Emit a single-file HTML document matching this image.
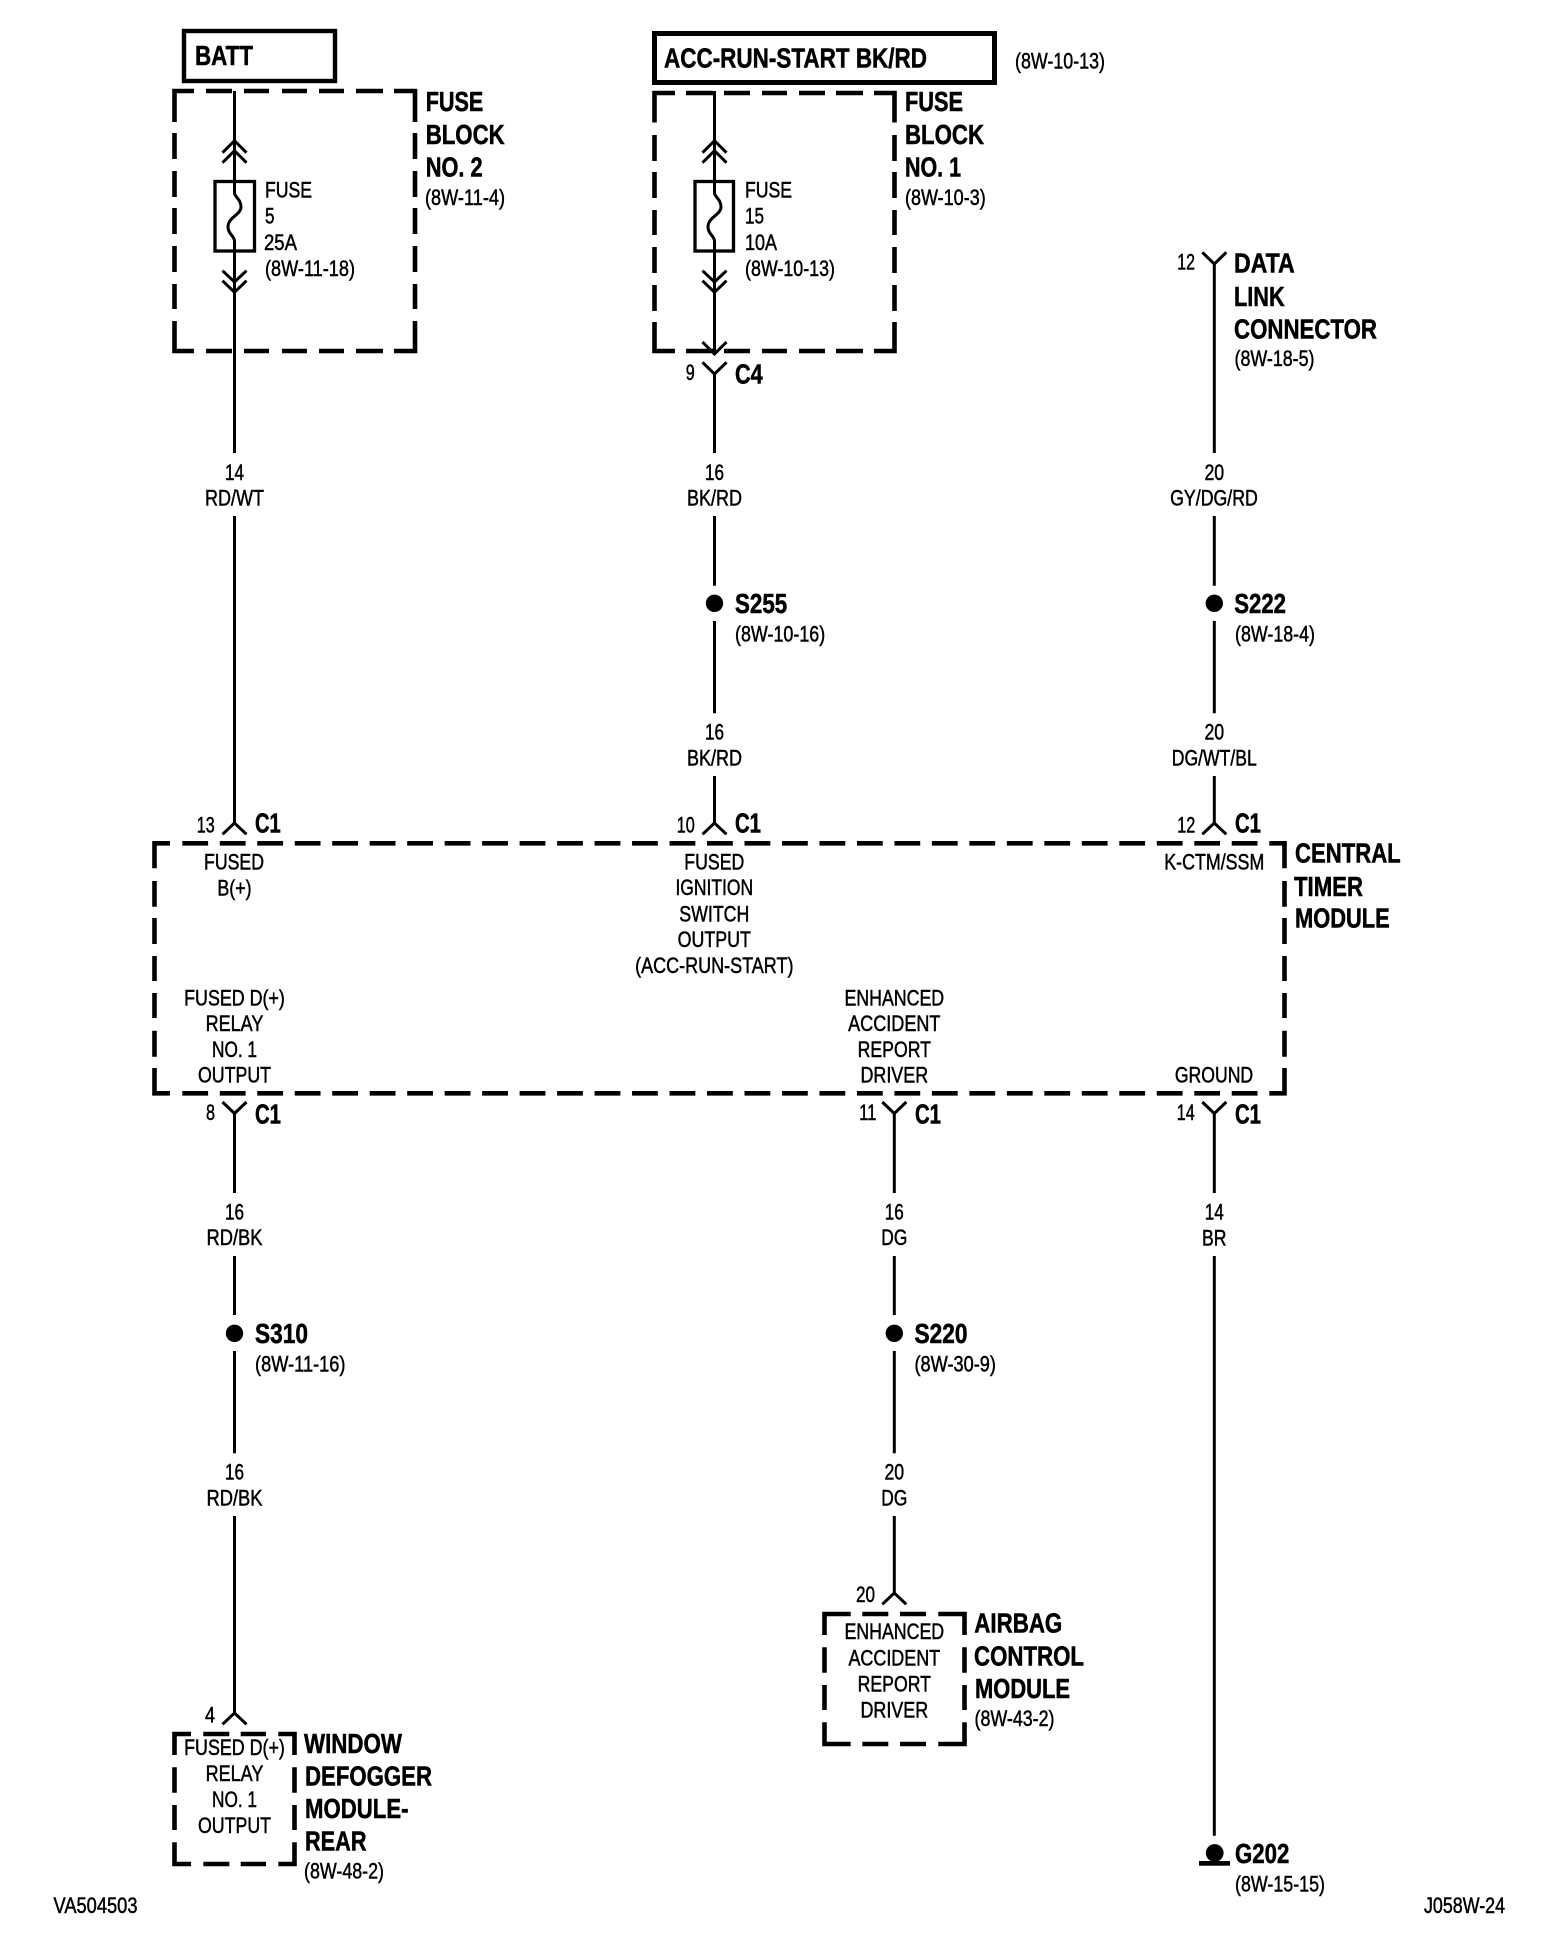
<!DOCTYPE html>
<html>
<head>
<meta charset="utf-8">
<style>
html,body{margin:0;padding:0;background:#fff}
svg{display:block}
text{font-family:"Liberation Sans",Arial,sans-serif;fill:#000}
.t{font-size:22.5px;stroke:#000;stroke-width:.5}
.b{font-size:28px;font-weight:700;stroke:#000;stroke-width:.55}
.m{text-anchor:middle}
.w{fill:none;stroke:#000;stroke-width:3}
.d{fill:none;stroke:#000;stroke-width:4.6;stroke-linejoin:miter}
.c{fill:none;stroke:#000;stroke-width:3}
</style>
</head>
<body>
<svg width="1568" height="1948" viewBox="0 0 1568 1948" xmlns="http://www.w3.org/2000/svg">
<rect width="1568" height="1948" fill="#fff"/>

<!-- top boxes -->
<rect x="184" y="31" width="151" height="50" fill="none" stroke="#000" stroke-width="4.4"/>
<rect x="654.5" y="33.5" width="340" height="49" fill="none" stroke="#000" stroke-width="5"/>

<!-- fuse block 2 -->
<path class="d" d="M194 91H174.5V122M206 91H232M244 91H269M282 91H307M319 91H344M356 91H383M394 91H415V122M174.5 133V159M174.5 171V197M174.5 208V234M174.5 246V272M174.5 284V309M174.5 321V351H194M206 351H232M244 351H269M282 351H307M319 351H344M356 351H383M394 351H415V321M415 133V159M415 171V197M415 208V234M415 246V272M415 284V309"/>
<!-- fuse block 1 -->
<path class="d" d="M675 93H654.5V122.5M686 93H713M724 93H750M762 93H787M799 93H825M836 93H863M874 93H894.5V122.5M654.5 135V161M654.5 172V198M654.5 210V235M654.5 247V273M654.5 285V311M654.5 322V351H675M686 351H713M724 351H750M762 351H787M799 351H825M836 351H863M874 351H894.5V322M894.5 135V161M894.5 172V198M894.5 210V235M894.5 247V273M894.5 285V311"/>

<!-- central timer module -->
<path class="d" d="M170 843.3H154.5V868.3M154.5 881V906.7M154.5 918V944M154.5 956V981M154.5 993V1018M154.5 1030.7V1056.7M154.5 1068V1093.3H170M1269.3 843.3H1284.5V868.3M1284.5 881V906.7M1284.5 918V944M1284.5 956V981M1284.5 993V1018M1284.5 1030.7V1056.7M1284.5 1068V1093.3H1269.3"/>
<path class="d" stroke-dasharray="25.8 11.68" d="M182.3 843.3H1258"/>
<path class="d" stroke-dasharray="25.8 11.68" d="M182.3 1093.3H1258"/>

<!-- window defogger box -->
<path class="d" d="M191 1734H174.5V1755M203.3 1734H229.3M240.7 1734H266M278.3 1734H294.5V1755M174.5 1767.3V1792.7M174.5 1805V1830M174.5 1842.3V1864H191M203.3 1864H229.3M240.7 1864H266M278.3 1864H294.5V1842.3M294.5 1767.3V1792.7M294.5 1805V1830"/>
<!-- airbag box -->
<path class="d" d="M850.7 1614H824.5V1635M862.3 1614H888.3M900 1614H926M938.3 1614H964.5V1635M824.5 1647.3V1672.7M824.5 1685V1710M824.5 1722.3V1744H850.7M862.3 1744H888.3M900 1744H926M938.3 1744H964.5V1722.3M964.5 1647.3V1672.7M964.5 1685V1710"/>

<!-- fuse rects -->
<rect x="215" y="181.5" width="39.5" height="69.5" fill="none" stroke="#000" stroke-width="3.3"/>
<rect x="695" y="181.5" width="38.5" height="69.5" fill="none" stroke="#000" stroke-width="3.3"/>

<!-- wires col 1 -->
<path class="w" d="M234.5 91V193C234.5 197 241 199 241 207C241 215 228 217 228 227C228 234 234.5 236 234.5 241V453"/>
<path class="w" d="M234.5 516V824"/>
<path class="w" d="M234.5 1113V1193M234.5 1256V1315M234.5 1351V1453.3M234.5 1516V1713"/>
<!-- wires col 2 -->
<path class="w" d="M714.5 91V193C714.5 197 721 199 721 207C721 215 708 217 708 227C708 234 714.5 236 714.5 241V354"/>
<path class="w" d="M714.5 373V453M714.5 516V585.7M714.5 621V713.3M714.5 776V824"/>
<!-- wires col 3 -->
<path class="w" d="M1214.3 263V453M1214.3 516V585.7M1214.3 621V713.3M1214.3 776V824"/>
<path class="w" d="M1214.3 1113V1193M1214.3 1256V1835.7"/>
<!-- wires mid -->
<path class="w" d="M894.3 1113V1193M894.3 1256V1315M894.3 1351V1453.3M894.3 1516V1593"/>

<!-- chevrons -->
<path class="c" d="M222.5 152.7L234.5 140.7L246.5 152.7M222.5 162.7L234.5 150.7L246.5 162.7M222.5 270.7L234.5 282L246.5 270.7M222.5 280.7L234.5 292.3L246.5 280.7"/>
<path class="c" d="M702.5 152.7L714.5 140.7L726.5 152.7M702.5 162.7L714.5 150.7L726.5 162.7M702.5 270.7L714.5 282L726.5 270.7M702.5 280.7L714.5 292.3L726.5 280.7M702.5 342L714.5 354L726.5 342"/>

<!-- connectors -->
<path class="c" d="M702.5 362.3L714.5 374L726.5 362.3"/>
<path class="c" d="M1202.3 252.3L1214.3 264L1226.3 252.3"/>
<path class="c" d="M222.5 834.3L234.5 823L246.5 834.3M702.5 834.3L714.5 823L726.5 834.3M1202.3 834.3L1214.3 823L1226.3 834.3"/>
<path class="c" d="M222.5 1102L234.5 1113.5L246.5 1102M882.3 1102L894.3 1113.5L906.3 1102M1202.3 1102L1214.3 1113.5L1226.3 1102"/>
<path class="c" d="M222.5 1724.3L234.5 1713L246.5 1724.3M882.3 1604.3L894.3 1593L906.3 1604.3"/>

<!-- splices -->
<circle cx="714.5" cy="603.3" r="8.7"/>
<circle cx="1214.3" cy="603.3" r="8.7"/>
<circle cx="234.5" cy="1333.3" r="8.7"/>
<circle cx="894.3" cy="1333.3" r="8.7"/>

<!-- ground -->
<circle cx="1214.7" cy="1853" r="8.9"/>
<rect x="1199" y="1861" width="31" height="4.7"/>

<!-- TEXT top -->
<text class="b" x="195" y="65" textLength="58" lengthAdjust="spacingAndGlyphs">BATT</text>
<text class="b" x="664" y="67.5" textLength="263" lengthAdjust="spacingAndGlyphs">ACC-RUN-START BK/RD</text>
<text class="t" x="1015" y="68.3" textLength="90" lengthAdjust="spacingAndGlyphs">(8W-10-13)</text>

<text class="b" x="425.7" y="111" textLength="57.6" lengthAdjust="spacingAndGlyphs">FUSE</text>
<text class="b" x="425.7" y="144" textLength="79" lengthAdjust="spacingAndGlyphs">BLOCK</text>
<text class="b" x="425.7" y="176.5" textLength="57" lengthAdjust="spacingAndGlyphs">NO. 2</text>
<text class="t" x="425" y="205" textLength="80" lengthAdjust="spacingAndGlyphs">(8W-11-4)</text>

<text class="t" x="265" y="197.3" textLength="47" lengthAdjust="spacingAndGlyphs">FUSE</text>
<text class="t" x="265" y="223.3" textLength="9.5" lengthAdjust="spacingAndGlyphs">5</text>
<text class="t" x="264" y="250" textLength="33" lengthAdjust="spacingAndGlyphs">25A</text>
<text class="t" x="265" y="276" textLength="90" lengthAdjust="spacingAndGlyphs">(8W-11-18)</text>

<text class="b" x="905" y="111" textLength="58" lengthAdjust="spacingAndGlyphs">FUSE</text>
<text class="b" x="905" y="144" textLength="79" lengthAdjust="spacingAndGlyphs">BLOCK</text>
<text class="b" x="905" y="176.5" textLength="56" lengthAdjust="spacingAndGlyphs">NO. 1</text>
<text class="t" x="905" y="205" textLength="80.7" lengthAdjust="spacingAndGlyphs">(8W-10-3)</text>

<text class="t" x="745" y="197.3" textLength="47" lengthAdjust="spacingAndGlyphs">FUSE</text>
<text class="t" x="745" y="223.3" textLength="19" lengthAdjust="spacingAndGlyphs">15</text>
<text class="t" x="745" y="250" textLength="32" lengthAdjust="spacingAndGlyphs">10A</text>
<text class="t" x="745" y="276" textLength="90" lengthAdjust="spacingAndGlyphs">(8W-10-13)</text>

<text class="t" x="685.7" y="380" textLength="9" lengthAdjust="spacingAndGlyphs">9</text>
<text class="b" x="735" y="383.3" textLength="27.7" lengthAdjust="spacingAndGlyphs">C4</text>

<text class="t" x="1177.3" y="269.5" textLength="17.7" lengthAdjust="spacingAndGlyphs">12</text>
<text class="b" x="1234" y="272.5" textLength="60.7" lengthAdjust="spacingAndGlyphs">DATA</text>
<text class="b" x="1234" y="306" textLength="50.7" lengthAdjust="spacingAndGlyphs">LINK</text>
<text class="b" x="1234" y="338.5" textLength="143" lengthAdjust="spacingAndGlyphs">CONNECTOR</text>
<text class="t" x="1234.5" y="366" textLength="80" lengthAdjust="spacingAndGlyphs">(8W-18-5)</text>

<!-- wire labels upper -->
<text class="t m" x="234.5" y="480" textLength="19" lengthAdjust="spacingAndGlyphs">14</text>
<text class="t m" x="234.5" y="505.7" textLength="59" lengthAdjust="spacingAndGlyphs">RD/WT</text>
<text class="t m" x="714.5" y="480" textLength="19" lengthAdjust="spacingAndGlyphs">16</text>
<text class="t m" x="714.5" y="505.7" textLength="55" lengthAdjust="spacingAndGlyphs">BK/RD</text>
<text class="t m" x="1214.3" y="480" textLength="19.7" lengthAdjust="spacingAndGlyphs">20</text>
<text class="t m" x="1214" y="505.7" textLength="87.7" lengthAdjust="spacingAndGlyphs">GY/DG/RD</text>

<text class="b" x="735" y="613" textLength="52.2" lengthAdjust="spacingAndGlyphs">S255</text>
<text class="t" x="735" y="641.7" textLength="90.2" lengthAdjust="spacingAndGlyphs">(8W-10-16)</text>
<text class="b" x="1234.3" y="613" textLength="51.7" lengthAdjust="spacingAndGlyphs">S222</text>
<text class="t" x="1235" y="641.7" textLength="80" lengthAdjust="spacingAndGlyphs">(8W-18-4)</text>

<text class="t m" x="714.5" y="739.5" textLength="19" lengthAdjust="spacingAndGlyphs">16</text>
<text class="t m" x="714.5" y="765.5" textLength="55" lengthAdjust="spacingAndGlyphs">BK/RD</text>
<text class="t m" x="1214.3" y="739.5" textLength="19.7" lengthAdjust="spacingAndGlyphs">20</text>
<text class="t m" x="1214.3" y="765.5" textLength="85" lengthAdjust="spacingAndGlyphs">DG/WT/BL</text>

<!-- connector labels upper -->
<text class="t" x="196.7" y="832.5" textLength="18" lengthAdjust="spacingAndGlyphs">13</text>
<text class="b" x="255" y="832.5" textLength="25.7" lengthAdjust="spacingAndGlyphs">C1</text>
<text class="t" x="676.7" y="832.5" textLength="18" lengthAdjust="spacingAndGlyphs">10</text>
<text class="b" x="735" y="832.5" textLength="26" lengthAdjust="spacingAndGlyphs">C1</text>
<text class="t" x="1177.3" y="832.5" textLength="18" lengthAdjust="spacingAndGlyphs">12</text>
<text class="b" x="1235" y="832.5" textLength="26" lengthAdjust="spacingAndGlyphs">C1</text>

<!-- module labels -->
<text class="t m" x="234" y="869.3" textLength="60" lengthAdjust="spacingAndGlyphs">FUSED</text>
<text class="t m" x="234.5" y="895.7" textLength="34.3" lengthAdjust="spacingAndGlyphs">B(+)</text>
<text class="t m" x="714.3" y="869.3" textLength="60" lengthAdjust="spacingAndGlyphs">FUSED</text>
<text class="t m" x="714.3" y="895" textLength="77.7" lengthAdjust="spacingAndGlyphs">IGNITION</text>
<text class="t m" x="714.3" y="921.7" textLength="70" lengthAdjust="spacingAndGlyphs">SWITCH</text>
<text class="t m" x="714.3" y="947" textLength="73.3" lengthAdjust="spacingAndGlyphs">OUTPUT</text>
<text class="t m" x="714.3" y="973" textLength="158.3" lengthAdjust="spacingAndGlyphs">(ACC-RUN-START)</text>
<text class="t m" x="1214.3" y="869.3" textLength="100" lengthAdjust="spacingAndGlyphs">K-CTM/SSM</text>

<text class="t m" x="234.5" y="1005.5" textLength="100.7" lengthAdjust="spacingAndGlyphs">FUSED D(+)</text>
<text class="t m" x="234.5" y="1031" textLength="57.7" lengthAdjust="spacingAndGlyphs">RELAY</text>
<text class="t m" x="234.5" y="1057" textLength="45" lengthAdjust="spacingAndGlyphs">NO. 1</text>
<text class="t m" x="234.5" y="1082.5" textLength="73" lengthAdjust="spacingAndGlyphs">OUTPUT</text>
<text class="t m" x="894.3" y="1005.5" textLength="99.7" lengthAdjust="spacingAndGlyphs">ENHANCED</text>
<text class="t m" x="894.3" y="1031" textLength="92.3" lengthAdjust="spacingAndGlyphs">ACCIDENT</text>
<text class="t m" x="894.3" y="1057" textLength="73.3" lengthAdjust="spacingAndGlyphs">REPORT</text>
<text class="t m" x="894.3" y="1082.5" textLength="67.7" lengthAdjust="spacingAndGlyphs">DRIVER</text>
<text class="t m" x="1214" y="1082.5" textLength="78.3" lengthAdjust="spacingAndGlyphs">GROUND</text>

<text class="b" x="1295" y="862.5" textLength="105.7" lengthAdjust="spacingAndGlyphs">CENTRAL</text>
<text class="b" x="1294" y="896" textLength="69" lengthAdjust="spacingAndGlyphs">TIMER</text>
<text class="b" x="1295" y="927.7" textLength="94.7" lengthAdjust="spacingAndGlyphs">MODULE</text>

<!-- connector labels lower -->
<text class="t" x="206" y="1120" textLength="9" lengthAdjust="spacingAndGlyphs">8</text>
<text class="b" x="255" y="1123.3" textLength="26" lengthAdjust="spacingAndGlyphs">C1</text>
<text class="t" x="859.3" y="1120" textLength="17" lengthAdjust="spacingAndGlyphs">11</text>
<text class="b" x="915" y="1123.3" textLength="26" lengthAdjust="spacingAndGlyphs">C1</text>
<text class="t" x="1176.7" y="1120" textLength="18" lengthAdjust="spacingAndGlyphs">14</text>
<text class="b" x="1235" y="1123.3" textLength="26" lengthAdjust="spacingAndGlyphs">C1</text>

<!-- wire labels lower -->
<text class="t m" x="234.5" y="1219.5" textLength="19" lengthAdjust="spacingAndGlyphs">16</text>
<text class="t m" x="234.5" y="1245.2" textLength="56" lengthAdjust="spacingAndGlyphs">RD/BK</text>
<text class="t m" x="894.3" y="1219.5" textLength="19" lengthAdjust="spacingAndGlyphs">16</text>
<text class="t m" x="894.3" y="1245.2" textLength="26" lengthAdjust="spacingAndGlyphs">DG</text>
<text class="t m" x="1214.3" y="1219.5" textLength="19" lengthAdjust="spacingAndGlyphs">14</text>
<text class="t m" x="1214.3" y="1245.5" textLength="24.5" lengthAdjust="spacingAndGlyphs">BR</text>

<text class="b" x="255" y="1343" textLength="53" lengthAdjust="spacingAndGlyphs">S310</text>
<text class="t" x="255" y="1371.7" textLength="90.5" lengthAdjust="spacingAndGlyphs">(8W-11-16)</text>
<text class="b" x="914.5" y="1343" textLength="53" lengthAdjust="spacingAndGlyphs">S220</text>
<text class="t" x="914.5" y="1371.7" textLength="81.4" lengthAdjust="spacingAndGlyphs">(8W-30-9)</text>

<text class="t m" x="234.5" y="1479.5" textLength="19" lengthAdjust="spacingAndGlyphs">16</text>
<text class="t m" x="234.5" y="1505.5" textLength="56" lengthAdjust="spacingAndGlyphs">RD/BK</text>
<text class="t m" x="894.3" y="1479.5" textLength="19.7" lengthAdjust="spacingAndGlyphs">20</text>
<text class="t m" x="894.3" y="1505.5" textLength="26" lengthAdjust="spacingAndGlyphs">DG</text>

<!-- airbag -->
<text class="t" x="856" y="1602" textLength="19" lengthAdjust="spacingAndGlyphs">20</text>
<text class="t m" x="894.3" y="1639" textLength="99.7" lengthAdjust="spacingAndGlyphs">ENHANCED</text>
<text class="t m" x="894.3" y="1665.7" textLength="91.7" lengthAdjust="spacingAndGlyphs">ACCIDENT</text>
<text class="t m" x="894.3" y="1691.5" textLength="73.3" lengthAdjust="spacingAndGlyphs">REPORT</text>
<text class="t m" x="894.3" y="1717.5" textLength="67.7" lengthAdjust="spacingAndGlyphs">DRIVER</text>
<text class="b" x="974.3" y="1632.7" textLength="88" lengthAdjust="spacingAndGlyphs">AIRBAG</text>
<text class="b" x="974" y="1665.7" textLength="110" lengthAdjust="spacingAndGlyphs">CONTROL</text>
<text class="b" x="975" y="1698" textLength="95" lengthAdjust="spacingAndGlyphs">MODULE</text>
<text class="t" x="974.5" y="1726" textLength="80" lengthAdjust="spacingAndGlyphs">(8W-43-2)</text>

<!-- window defogger -->
<text class="t" x="205" y="1722.3" textLength="10" lengthAdjust="spacingAndGlyphs">4</text>
<text class="t m" x="234.5" y="1755" textLength="100.7" lengthAdjust="spacingAndGlyphs">FUSED D(+)</text>
<text class="t m" x="234.5" y="1781" textLength="57.7" lengthAdjust="spacingAndGlyphs">RELAY</text>
<text class="t m" x="234.5" y="1807" textLength="45" lengthAdjust="spacingAndGlyphs">NO. 1</text>
<text class="t m" x="234.5" y="1833" textLength="73" lengthAdjust="spacingAndGlyphs">OUTPUT</text>
<text class="b" x="304" y="1753" textLength="98" lengthAdjust="spacingAndGlyphs">WINDOW</text>
<text class="b" x="305" y="1785.7" textLength="127" lengthAdjust="spacingAndGlyphs">DEFOGGER</text>
<text class="b" x="305" y="1818" textLength="103.5" lengthAdjust="spacingAndGlyphs">MODULE-</text>
<text class="b" x="305" y="1850.5" textLength="61.5" lengthAdjust="spacingAndGlyphs">REAR</text>
<text class="t" x="304" y="1878.5" textLength="80" lengthAdjust="spacingAndGlyphs">(8W-48-2)</text>

<!-- ground labels and footer -->
<text class="b" x="1235" y="1863" textLength="54.3" lengthAdjust="spacingAndGlyphs">G202</text>
<text class="t" x="1235" y="1891.5" textLength="90" lengthAdjust="spacingAndGlyphs">(8W-15-15)</text>
<text class="t" x="1424" y="1913" textLength="81" lengthAdjust="spacingAndGlyphs">J058W-24</text>
<text class="t" x="53.5" y="1913" textLength="84" lengthAdjust="spacingAndGlyphs">VA504503</text>
</svg>
</body>
</html>
